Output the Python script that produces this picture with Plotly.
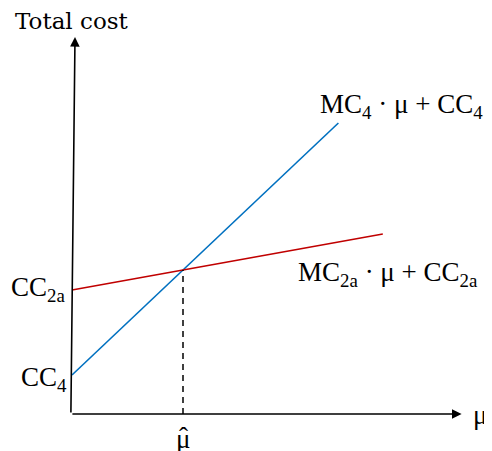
import plotly.graph_objects as go

# Model parameters (arbitrary cost units)
CC4 = 0.39
MC4 = 1.05
CC2A = 1.24
MC2A = 0.20
MU_MAX_4 = 2.4
MU_MAX_2A = 2.8
X_AXIS_END = 3.51
Y_AXIS_END = 3.77

mu_hat = (CC2A - CC4) / (MC4 - MC2A)
cost_hat = CC4 + MC4 * mu_hat

line4_x = [0, MU_MAX_4]
line4_y = [CC4 + MC4 * m for m in line4_x]
line2a_x = [0, MU_MAX_2A]
line2a_y = [CC2A + MC2A * m for m in line2a_x]

TITLE_FONT = "DejaVu Serif"
MATH_FONT = "Liberation Serif"
BLUE = "#0070C0"
RED = "#C00000"

W, H = 484, 443   # page body has an 8px margin
OFF = 8

def px(xp):
    return (xp - OFF) / W

def py(yp):
    return 1 - (yp - OFF) / H

fig = go.Figure()
fig.add_trace(go.Scatter(x=line4_x, y=line4_y, mode="lines",
                         line=dict(color=BLUE, width=1.6), hoverinfo="skip"))
fig.add_trace(go.Scatter(x=line2a_x, y=line2a_y, mode="lines",
                         line=dict(color=RED, width=1.6), hoverinfo="skip"))
fig.add_trace(go.Scatter(x=[mu_hat, mu_hat], y=[0, cost_hat], mode="lines",
                         line=dict(color="black", width=1.5, dash="6px,5px"), hoverinfo="skip"))

def arrow(x, y, ax, ay):
    fig.add_annotation(x=x, y=y, ax=ax, ay=ay, xref="x", yref="y", axref="x", ayref="y",
                       showarrow=True, arrowhead=2, arrowsize=1.2, arrowwidth=1.6,
                       arrowcolor="black", text="", standoff=0, startstandoff=0)

arrow(X_AXIS_END, 0, -0.01, 0)
arrow(0.027, Y_AXIS_END, -0.01, 0)

def label(x, y, s, size, font=MATH_FONT, xanchor="center", yanchor="middle", xref="paper", yref="paper"):
    fig.add_annotation(x=x, y=y, text=s, showarrow=False, xref=xref, yref=yref,
                       xanchor=xanchor, yanchor=yanchor, borderpad=0,
                       font=dict(family=font, size=size, color="black"))

label(px(14), py(21), "Total cost", 23, TITLE_FONT, "left")
label(px(319), py(106), "MC<sub>4</sub> · μ + CC<sub>4</sub>", 27, MATH_FONT, "left")
label(px(297), py(274), "MC<sub>2a</sub> · μ + CC<sub>2a</sub>", 27, MATH_FONT, "left")
label(px(66), py(289), "CC<sub>2a</sub>", 27, MATH_FONT, "right")
label(px(68), py(379), "CC<sub>4</sub>", 27, MATH_FONT, "right")
label(px(472), py(415), "μ", 27, MATH_FONT, "left")
label(mu_hat, py(439), "μ", 27, MATH_FONT, "center", xref="x")
label(mu_hat, py(437), "ˆ", 27, MATH_FONT, "center", xref="x")

fig.update_layout(
    width=W, height=H,
    margin=dict(l=0, r=0, t=0, b=0),
    paper_bgcolor="white", plot_bgcolor="white",
    showlegend=False,
    xaxis=dict(range=[(OFF - 72) / 111, (492 - 72) / 111], visible=False, fixedrange=True),
    yaxis=dict(range=[-0.37, (414 - OFF) / 100], visible=False, fixedrange=True),
)
fig.write_html("out.html")
